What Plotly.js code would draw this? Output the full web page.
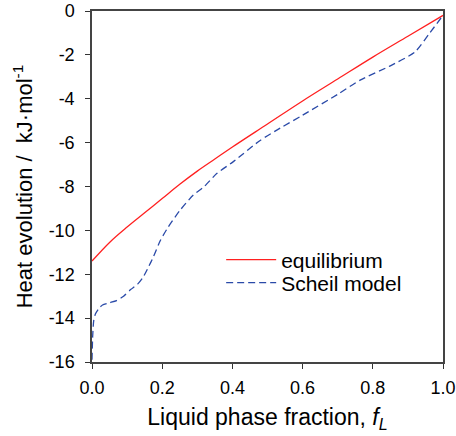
<!DOCTYPE html>
<html><head><meta charset="utf-8">
<script src="https://cdn.plot.ly/plotly-3.0.1.min.js"></script>
<style>body{margin:0}#c{width:456px;height:436px}</style>
</head><body><div id="c"></div>
<script>
var eqX = [0, 0.05, 0.1, 0.15, 0.2, 0.25, 0.3, 0.35, 0.4, 0.5, 0.6, 0.7, 0.8, 0.9, 1.0];
var eqY = [-11.4, -10.55, -9.85, -9.2, -8.55, -7.9, -7.3, -6.75, -6.2, -5.15, -4.1, -3.1, -2.1, -1.15, -0.2];
var scX = [0, 0.002, 0.005, 0.01, 0.02, 0.03, 0.05, 0.07, 0.09, 0.11, 0.13, 0.145, 0.16, 0.175, 0.195, 0.217, 0.25, 0.288, 0.32, 0.356, 0.4, 0.479, 0.536, 0.6, 0.7, 0.764, 0.85, 0.92, 0.96, 1.0];
var scY = [-15.9, -14.8, -14.1, -13.8, -13.55, -13.4, -13.3, -13.2, -13.0, -12.7, -12.45, -12.15, -11.7, -11.2, -10.45, -9.85, -9.1, -8.4, -8.0, -7.4, -6.9, -5.9, -5.34, -4.75, -3.8, -3.15, -2.5, -1.87, -1.05, -0.2];
var yTicks = [0, -2, -4, -6, -8, -10, -12, -14, -16];
var yTickText = ['0', '-2', '-4', '-6', '-8', '-10', '-12', '-14', '-16'];
var xTicks = [0.0, 0.2, 0.4, 0.6, 0.8, 1.0];
var xTickText = ['0.0', '0.2', '0.4', '0.6', '0.8', '1.0'];

var traces = [
  {x: eqX, y: eqY, mode: 'lines', name: 'equilibrium', legend: 'legend', line: {color: '#ff2020', width: 1.3, shape: 'spline'}},
  {x: scX, y: scY, mode: 'lines', name: 'Scheil model', legend: 'legend2', line: {color: '#2a4aa8', width: 1.3, dash: '7px,4px', shape: 'spline', smoothing: 0.6}}
];
var fam = 'Liberation Sans, Arial, sans-serif';
var legBase = {x: 0.368, xanchor: 'left', yanchor: 'middle', bgcolor: 'rgba(0,0,0,0)', font: {size: 21, family: fam}, itemwidth: 50};
var layout = {
  width: 456, height: 436,
  margin: {l: 92, r: 13, t: 11, b: 74},
  paper_bgcolor: '#fff', plot_bgcolor: '#fff',
  font: {family: fam, size: 18, color: '#000'},
  showlegend: true,
  legend: Object.assign({}, legBase, {y: 0.2906}),
  legend2: Object.assign({}, legBase, {y: 0.225}),
  xaxis: {
    range: [0, 1], tickvals: xTicks, ticktext: xTickText,
    ticks: 'outside', ticklen: 5, tickcolor: '#333', showline: true, linecolor: '#444', linewidth: 1.5, mirror: true,
    showgrid: false, zeroline: false, tickfont: {size: 18}, ticklabelstandoff: 4,
    title: {text: 'Liquid phase fraction, <i>f</i><sub><i>L</i></sub>', font: {size: 23}, standoff: 12}
  },
  yaxis: {
    range: [-16, 0], tickvals: yTicks, ticktext: yTickText, ticks: 'outside', ticklen: 5, tickcolor: '#333',
    showline: true, linecolor: '#444', linewidth: 1.5, mirror: true,
    showgrid: false, zeroline: false, tickfont: {size: 18}, ticklabelstandoff: 7,
    title: {text: 'Heat evolution /  kJ·mol<sup>-1</sup>', font: {size: 22}, standoff: 10}
  }
};
Plotly.newPlot('c', traces, layout, {displayModeBar: false});
</script></body></html>
